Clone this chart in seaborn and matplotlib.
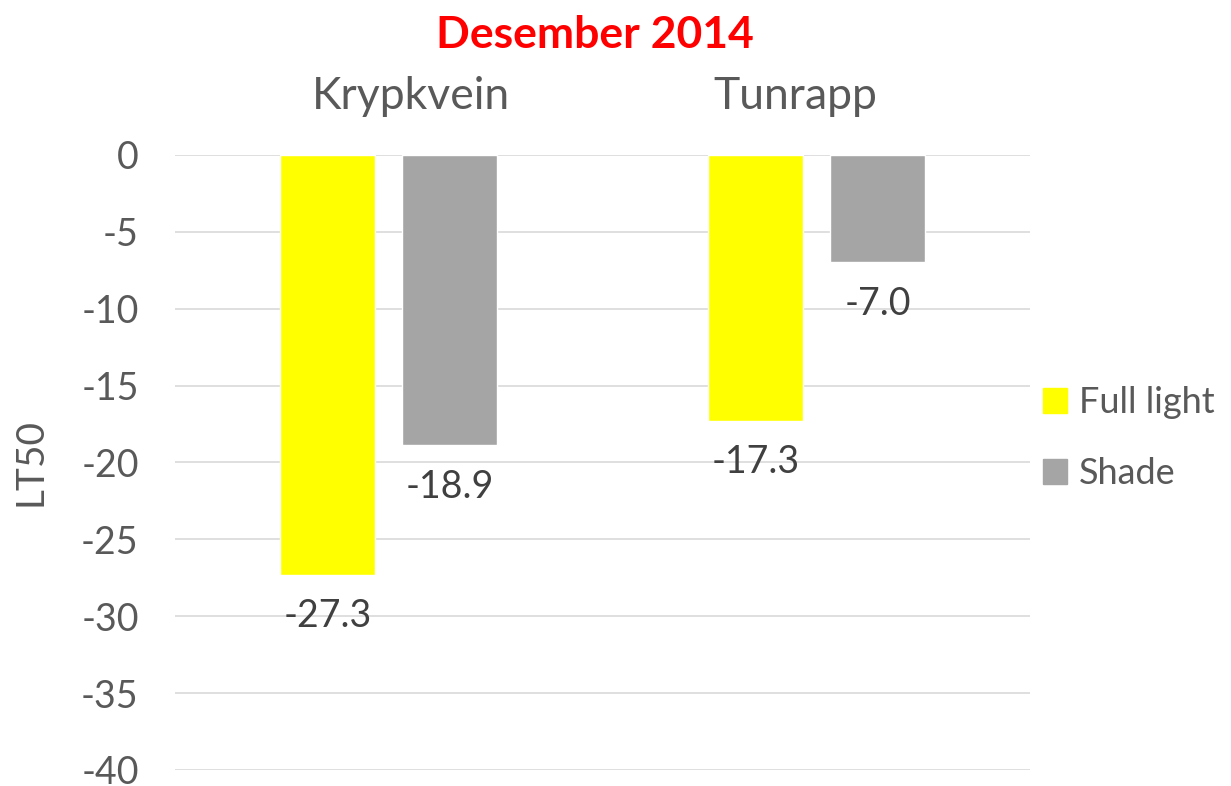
import matplotlib
matplotlib.use("Agg")
import matplotlib.pyplot as plt
import seaborn as sns
import pandas as pd

sites = ["Krypkvein", "Tunrapp"]
treatments = ["Full light", "Shade"]
full_light = [-27.3, -17.3]
shade = [-18.9, -7.0]
yticks = [0, -5, -10, -15, -20, -25, -30, -35, -40]

df = pd.DataFrame({
    "site": sites * 2,
    "treatment": [treatments[0]] * 2 + [treatments[1]] * 2,
    "LT50": full_light + shade,
})

sns.set_theme(style="white")
plt.rcParams['font.family'] = ['Lato', 'DejaVu Sans']
txt = "#595959"

fig = plt.figure(figsize=(12.31, 7.86), dpi=100)
ax = fig.add_axes([0.142, 0.0204, 0.695, 0.7826])
sns.barplot(data=df, x="site", y="LT50", hue="treatment", order=sites,
            hue_order=treatments, palette=["#FFFF00", "#A5A5A5"],
            width=0.571, gap=0.22, ax=ax, saturation=1, errorbar=None)

ax.set_ylim(-40, 0)
ax.set_yticks(yticks)
ax.set_yticklabels([str(v) for v in yticks], fontsize=27, color=txt)
ax.yaxis.grid(True, color="#D9D9D9", linewidth=1.2)
ax.set_axisbelow(True)
for s in ax.spines.values():
    s.set_visible(False)
ax.tick_params(axis="y", length=0, pad=26)
ax.set_xticks([])
ax.set_xlabel("")
ax.set_ylabel("LT50", fontsize=28, color=txt)
ax.yaxis.set_label_coords(-0.148, 0.5)

# site headers above the plot area
for name, xf in zip(sites, [0.334, 0.646]):
    fig.text(xf, 0.877, name, ha="center", va="center", fontsize=32, color=txt)

for c in ax.containers:
    ax.bar_label(c, fmt="%.1f", padding=17, fontsize=27, color="#404040")

ax.get_legend().remove()
handles = [plt.Rectangle((0, 0), 1, 1, color=c) for c in ["#FFFF00", "#A5A5A5"]]
fig.legend(handles, treatments, loc="center left", bbox_to_anchor=(0.847, 0.4427),
           frameon=False, fontsize=26, labelcolor=txt, handlelength=0.67,
           handleheight=0.67, handletextpad=0.33, labelspacing=1.05,
           borderpad=0, borderaxespad=0)

fig.text(0.483, 0.955, "Desember 2014", ha="center", va="center",
         fontsize=32, fontweight="bold", color="#FF0000")

fig.savefig("out.png", dpi=100)
